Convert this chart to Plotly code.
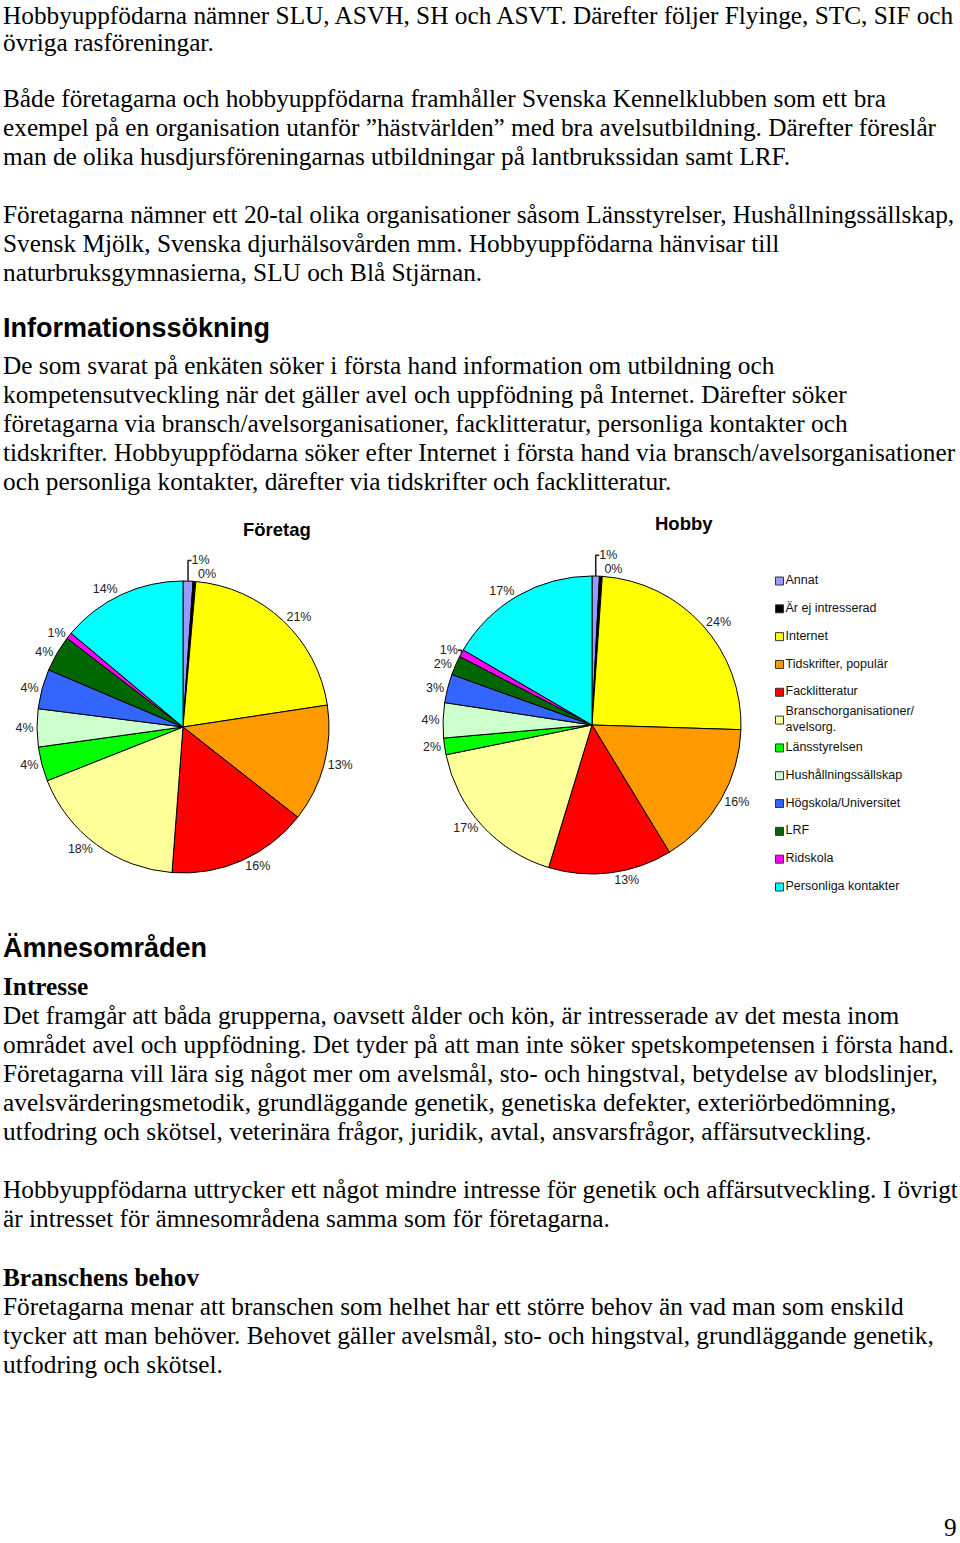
import plotly.graph_objects as go

W, H = 960, 1543

# ---- data -------------------------------------------------------------
categories = ["Annat", "Är ej intresserad", "Internet", "Tidskrifter, populär",
              "Facklitteratur", "Branschorganisationer/ avelsorg.", "Länsstyrelsen",
              "Hushållningssällskap", "Högskola/Universitet", "LRF", "Ridskola",
              "Personliga kontakter"]
foretag_values = [1.1, 0.3, 21.2, 13.0, 15.6, 17.8, 3.8, 4.2, 4.4, 4.0, 0.7, 13.9]
hobby_values = [0.8, 0.3, 24.4, 15.8, 13.4, 17.1, 1.8, 3.8, 3.1, 2.1, 0.8, 16.6]
slice_colors = ["#9999FF", "#000000", "#FFFF00", "#FF9900", "#FF0000", "#FFFF99",
                "#00FF00", "#CCFFCC", "#3366FF", "#006600", "#FF00FF", "#00FFFF"]
chart_titles = ["Företag", "Hobby"]

# ---- page text --------------------------------------------------------
body_lines = [
    (15, "Hobbyuppfödarna nämner SLU, ASVH, SH och ASVT. Därefter följer Flyinge, STC, SIF och"),
    (42, "övriga rasföreningar."),
    (98, "Både företagarna och hobbyuppfödarna framhåller Svenska Kennelklubben som ett bra"),
    (127, "exempel på en organisation utanför ”hästvärlden” med bra avelsutbildning. Därefter föreslår"),
    (156, "man de olika husdjursföreningarnas utbildningar på lantbrukssidan samt LRF."),
    (214, "Företagarna nämner ett 20-tal olika organisationer såsom Länsstyrelser, Hushållningssällskap,"),
    (243, "Svensk Mjölk, Svenska djurhälsovården mm. Hobbyuppfödarna hänvisar till"),
    (272, "naturbruksgymnasierna, SLU och Blå Stjärnan."),
    (365, "De som svarat på enkäten söker i första hand information om utbildning och"),
    (394, "kompetensutveckling när det gäller avel och uppfödning på Internet. Därefter söker"),
    (423, "företagarna via bransch/avelsorganisationer, facklitteratur, personliga kontakter och"),
    (452, "tidskrifter. Hobbyuppfödarna söker efter Internet i första hand via bransch/avelsorganisationer"),
    (481, "och personliga kontakter, därefter via tidskrifter och facklitteratur."),
    (1015, "Det framgår att båda grupperna, oavsett ålder och kön, är intresserade av det mesta inom"),
    (1044, "området avel och uppfödning. Det tyder på att man inte söker spetskompetensen i första hand."),
    (1073, "Företagarna vill lära sig något mer om avelsmål, sto- och hingstval, betydelse av blodslinjer,"),
    (1102, "avelsvärderingsmetodik, grundläggande genetik, genetiska defekter, exteriörbedömning,"),
    (1131, "utfodring och skötsel, veterinära frågor, juridik, avtal, ansvarsfrågor, affärsutveckling."),
    (1189, "Hobbyuppfödarna uttrycker ett något mindre intresse för genetik och affärsutveckling. I övrigt"),
    (1218, "är intresset för ämnesområdena samma som för företagarna."),
    (1306, "Företagarna menar att branschen som helhet har ett större behov än vad man som enskild"),
    (1335, "tycker att man behöver. Behovet gäller avelsmål, sto- och hingstval, grundläggande genetik,"),
    (1364, "utfodring och skötsel."),
]
sans_headings = [(328, "Informationssökning"), (948, "Ämnesområden")]
serif_headings = [(986, "Intresse"), (1277, "Branschens behov")]

SERIF = "Liberation Serif, Times New Roman, serif"
SANS = "Liberation Sans, Arial, sans-serif"


def px_y(py):
    return 1 - py / H


def px_x(px):
    return px / W


fig = go.Figure()

# pies
pie_specs = [
    (foretag_values, (183, 727, 146)),
    (hobby_values, (592, 725, 149)),
]
for vals, (cx, cy, r) in pie_specs:
    fig.add_trace(go.Pie(
        labels=categories, values=vals, sort=False, direction="clockwise",
        rotation=0,
        marker=dict(colors=slice_colors, line=dict(color="#000000", width=1)),
        textposition="outside", texttemplate="%{percent:.0%}",
        textfont=dict(family=SANS, size=12.5, color="#222222"),
        domain=dict(x=[px_x(cx - r), px_x(cx + r)], y=[px_y(cy + r), px_y(cy - r)]),
        showlegend=False, hoverinfo="skip",
    ))

# legend drawn as a category-axis scatter
legend_text = [c.replace("/ ", "/<br>") for c in categories]
fig.add_trace(go.Scatter(
    x=[0] * len(categories), y=categories, mode="markers+text",
    marker=dict(symbol="square", size=8, color=slice_colors,
                line=dict(color="#333333", width=1)),
    text=legend_text, textposition="middle right",
    textfont=dict(family=SANS, size=12.5, color="#111111"),
    showlegend=False, hoverinfo="skip", cliponaxis=False,
))

leg_top, leg_bot = 581, 887
step = (leg_bot - leg_top) / (len(categories) - 1)
fig.update_xaxes(visible=False, range=[-0.1, 4], domain=[px_x(775), 1], fixedrange=True)
fig.update_yaxes(visible=False, type="category", categoryorder="array",
                 categoryarray=categories,
                 range=[len(categories) - 0.5, -0.5],
                 domain=[px_y(leg_bot + step / 2), px_y(leg_top - step / 2)],
                 fixedrange=True)

annotations = []
for py, t in body_lines:
    annotations.append(dict(x=px_x(2), y=px_y(py), xref="paper", yref="paper",
                            xanchor="left", yanchor="middle", text=t, showarrow=False,
                            borderpad=0,
                            font=dict(family=SERIF, size=25.3, color="#000000")))
for py, t in sans_headings:
    annotations.append(dict(x=px_x(2), y=px_y(py), xref="paper", yref="paper",
                            xanchor="left", yanchor="middle", text="<b>%s</b>" % t,
                            showarrow=False, borderpad=0,
                            font=dict(family=SANS, size=27, color="#000000")))
for py, t in serif_headings:
    annotations.append(dict(x=px_x(2), y=px_y(py), xref="paper", yref="paper",
                            xanchor="left", yanchor="middle", text="<b>%s</b>" % t,
                            showarrow=False, borderpad=0,
                            font=dict(family=SERIF, size=25.3, color="#000000")))
for (px, py), t in zip([(277, 529), (684, 524)], chart_titles):
    annotations.append(dict(x=px_x(px), y=px_y(py), xref="paper", yref="paper",
                            xanchor="center", yanchor="middle", text="<b>%s</b>" % t,
                            showarrow=False,
                            font=dict(family=SANS, size=18.5, color="#000000")))
annotations.append(dict(x=px_x(950), y=px_y(1527), xref="paper", yref="paper",
                        xanchor="center", yanchor="middle", text="9", showarrow=False,
                        borderpad=0,
                        font=dict(family=SERIF, size=25.3, color="#000000")))

fig.update_layout(
    width=W, height=H, margin=dict(l=0, r=0, t=0, b=0),
    paper_bgcolor="white", plot_bgcolor="white",
    annotations=annotations, showlegend=False,
)

fig.write_html("out.html", config={"displayModeBar": False, "staticPlot": True},
               post_script="document.body.style.margin='0';document.body.style.overflow='hidden';")
